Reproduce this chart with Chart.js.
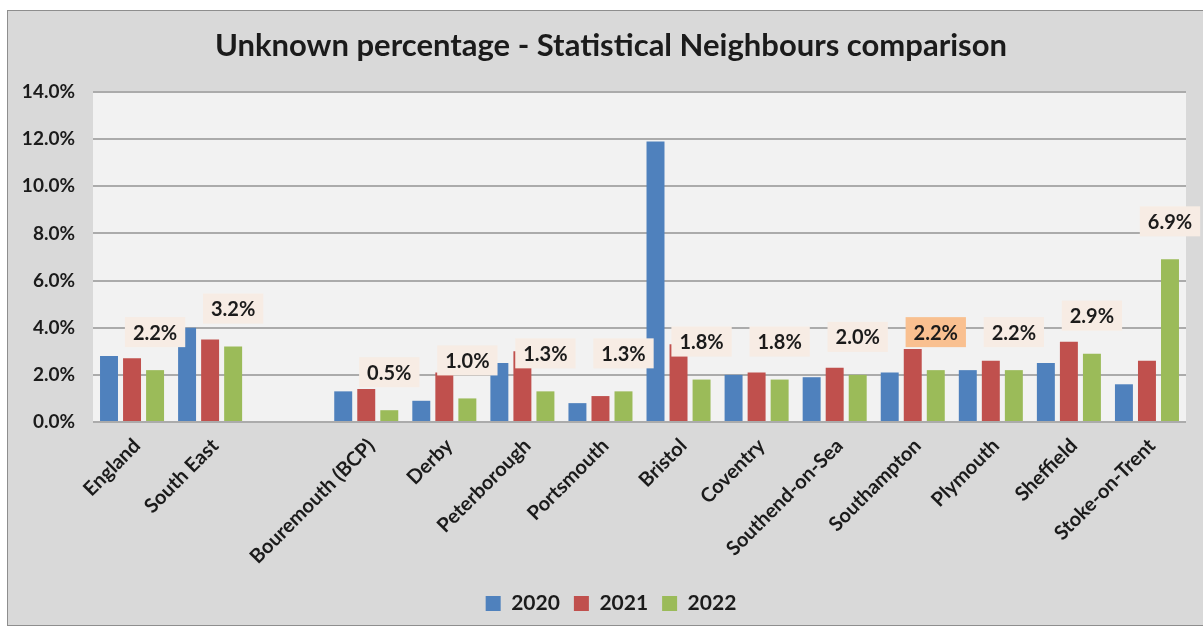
<!DOCTYPE html>
<html>
<head>
<meta charset="utf-8">
<title>Unknown percentage</title>
<script src="https://cdn.jsdelivr.net/npm/chart.js@4.4.1/dist/chart.umd.min.js"></script>
<style>
  html, body { margin: 0; padding: 0; background: #ffffff; }
  #barChart { display: block; }
</style>
</head>
<body>
<canvas id="barChart" width="1203" height="633"></canvas>
<script>
// categories (the empty one is the gap after the regional figures)
const categories = ['England', 'South East', '', 'Bouremouth (BCP)', 'Derby', 'Peterborough',
  'Portsmouth', 'Bristol', 'Coventry', 'Southend-on-Sea', 'Southampton', 'Plymouth',
  'Sheffield', 'Stoke-on-Trent'];
// unknown percentage per year
const values2020 = [2.8, 4.0, null, 1.3, 0.9, 2.5, 0.8, 11.9, 2.0, 1.9, 2.1, 2.2, 2.5, 1.6];
const values2021 = [2.7, 3.5, null, 1.4, 2.1, 3.0, 1.1, 3.3, 2.1, 2.3, 3.1, 2.6, 3.4, 2.6];
const values2022 = [2.2, 3.2, null, 0.5, 1.0, 1.3, 1.3, 1.8, 1.8, 2.0, 2.2, 2.2, 2.9, 6.9];
const seriesNames = ['2020', '2021', '2022'];
const yTicks = [0, 2, 4, 6, 8, 10, 12, 14];
const highlighted = 'Southampton';

const FONT = 'Lato';
const TEXT = '#1b1b1b';

// grey frame + light plot background
const framePlugin = {
  id: 'frame',
  afterLayout(chart) {
    // title and legend sit a little right of the plot centre in the original
    [chart.titleBlock, chart.legend].forEach(box => {
      box.left += 14;
      box.right += 14;
    });
  },
  beforeDraw(chart) {
    const ctx = chart.ctx;
    const a = chart.chartArea;
    ctx.save();
    ctx.fillStyle = '#ffffff';
    ctx.fillRect(0, 0, chart.width, chart.height);
    ctx.fillStyle = '#d9d9d9';
    ctx.fillRect(7, 10, chart.width, 616);
    ctx.strokeStyle = '#8e8e8e';
    ctx.lineWidth = 1;
    ctx.strokeRect(7.5, 10.5, chart.width + 5, 615);
    ctx.fillStyle = '#f2f2f2';
    ctx.fillRect(a.left, a.top, a.right - a.left, a.bottom - a.top);
    ctx.restore();
  }
};

// value labels for the latest year (boxes sit on top of neighbouring bars)
const labelPlugin = {
  id: 'lastYearLabels',
  afterDatasetsDraw(chart) {
    const ctx = chart.ctx;
    const meta = chart.getDatasetMeta(2);
    ctx.save();
    ctx.font = 'bold 20px ' + FONT;
    ctx.textAlign = 'center';
    ctx.textBaseline = 'middle';
    meta.data.forEach((bar, i) => {
      const v = values2022[i];
      if (v === null) return;
      const txt = v.toFixed(1) + '%';
      const w = ctx.measureText(txt).width + 16;
      const h = 30;
      const cy = bar.y - 38;
      ctx.fillStyle = categories[i] === highlighted ? '#f9c090' : '#f7ece4';
      ctx.fillRect(bar.x - w / 2, cy - h / 2, w, h);
      ctx.fillStyle = TEXT;
      ctx.fillText(txt, bar.x, cy + 1);
    });
    ctx.restore();
  }
};

const barChart = new Chart(document.getElementById('barChart'), {
  type: 'bar',
  data: {
    labels: categories,
    datasets: [
      { label: seriesNames[0], data: values2020, backgroundColor: '#4f81bd' },
      { label: seriesNames[1], data: values2021, backgroundColor: '#c0504d' },
      { label: seriesNames[2], data: values2022, backgroundColor: '#9bbb59' }
    ]
  },
  options: {
    responsive: false,
    animation: false,
    devicePixelRatio: 1,
    categoryPercentage: 0.885,
    barPercentage: 0.78,
    layout: { padding: { left: 8, right: 17, top: 0, bottom: 9 } },
    plugins: {
      title: {
        display: true,
        text: 'Unknown percentage - Statistical Neighbours comparison',
        color: TEXT,
        font: { family: FONT, size: 31, weight: 'bold' },
        padding: { top: 27, bottom: 27.8 }
      },
      legend: {
        position: 'bottom',
        labels: {
          boxWidth: 15,
          boxHeight: 15,
          padding: 14,
          color: TEXT,
          font: { family: FONT, size: 21, weight: 'bold' }
        }
      },
      tooltip: { enabled: false }
    },
    scales: {
      x: {
        grid: { display: false },
        border: { display: false },
        ticks: {
          autoSkip: false,
          minRotation: 45,
          maxRotation: 45,
          padding: 4,
          labelOffset: 5,
          color: TEXT,
          font: { family: FONT, size: 20, weight: 'bold' }
        },
        afterFit(scale) { scale.height = 157; }
      },
      y: {
        min: 0,
        max: 14,
        afterBuildTicks(scale) { scale.ticks = yTicks.map(v => ({ value: v })); },
        border: { display: false },
        grid: { color: '#ababab', lineWidth: 2, drawTicks: false },
        ticks: {
          padding: 18,
          color: TEXT,
          font: { family: FONT, size: 19, weight: 'bold' },
          callback: v => v.toFixed(1) + '%'
        },
        afterFit(scale) { scale.width = 85; }
      }
    }
  },
  plugins: [framePlugin, labelPlugin]
});
</script>
</body>
</html>
